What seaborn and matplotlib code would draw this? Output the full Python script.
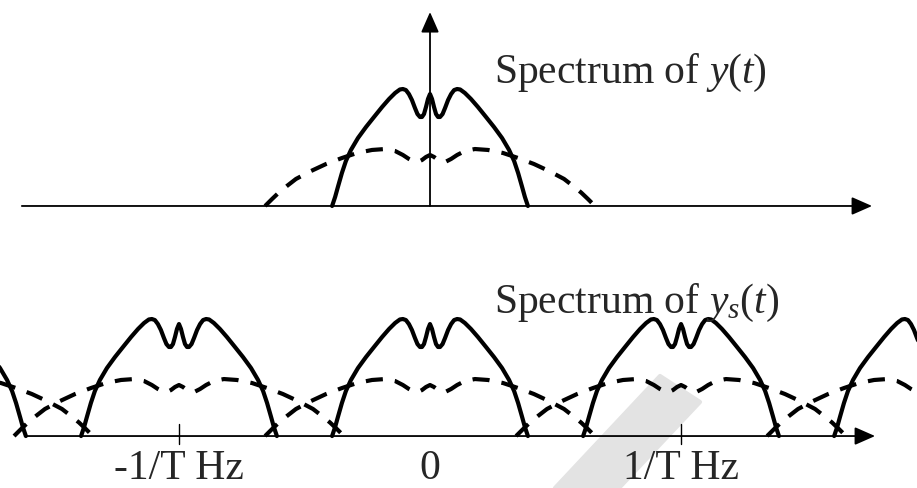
import matplotlib
matplotlib.use("Agg")
import matplotlib.pyplot as plt
import numpy as np
import pandas as pd
import seaborn as sns
from matplotlib.patches import Polygon

# Frequency axis in units of 1/T; amplitude normalised to the peak of y(t)'s spectrum.
SOLID_F = [-0.390, -0.378, -0.367, -0.351, -0.335, -0.315, -0.287, -0.255, -0.223,
           -0.191, -0.163, -0.139, -0.120, -0.108, -0.096, -0.084, -0.072, -0.060,
           -0.050, -0.040, -0.032, -0.024, -0.016, -0.008, 0.000,
           0.008, 0.016, 0.024, 0.032, 0.040, 0.050, 0.060, 0.072, 0.084, 0.096,
           0.108, 0.120, 0.139, 0.163, 0.191, 0.223, 0.255, 0.287, 0.315, 0.335,
           0.351, 0.367, 0.378, 0.390]
SOLID_A = [0.000, 0.077, 0.162, 0.282, 0.385, 0.479, 0.581, 0.675, 0.761,
           0.846, 0.915, 0.966, 0.996, 1.000, 0.991, 0.957, 0.906, 0.838,
           0.786, 0.761, 0.761, 0.786, 0.846, 0.915, 0.957,
           0.915, 0.846, 0.786, 0.761, 0.761, 0.786, 0.838, 0.906, 0.957, 0.991,
           1.000, 0.996, 0.966, 0.915, 0.846, 0.761, 0.675, 0.581, 0.479, 0.385,
           0.282, 0.162, 0.077, 0.000]

DASHED_F = [-0.657, -0.629, -0.602, -0.570, -0.534, -0.474, -0.414, -0.351, -0.291,
            -0.231, -0.179, -0.139, -0.108, -0.084, -0.064, -0.048, -0.032, -0.016, 0.000,
            0.016, 0.032, 0.048, 0.064, 0.084, 0.108, 0.139, 0.179, 0.231, 0.291,
            0.351, 0.414, 0.474, 0.534, 0.570, 0.602, 0.629, 0.657]
DASHED_A = [0.000, 0.060, 0.115, 0.171, 0.231, 0.299, 0.359, 0.410, 0.453,
            0.479, 0.487, 0.470, 0.436, 0.402, 0.380, 0.376, 0.393, 0.419, 0.436,
            0.419, 0.393, 0.376, 0.380, 0.402, 0.436, 0.470, 0.487, 0.479, 0.453,
            0.410, 0.359, 0.299, 0.231, 0.171, 0.115, 0.060, 0.000]

TOP_COPIES = [0]
SAMPLED_COPIES = [-2, -1, 0, 1, 2]

TICK_POS = [-1, 0, 1]
TICK_LABELS = ["-1/T Hz", "0", "1/T Hz"]

TOP_TITLE = "Spectrum of $y$($t$)"
BOTTOM_TITLE = "Spectrum of $y_s$($t$)"


def spectrum_frame(copies):
    parts = []
    for k in copies:
        parts.append(pd.DataFrame({"f": np.add(SOLID_F, k), "amp": SOLID_A,
                                   "kind": "solid", "copy": k}))
        parts.append(pd.DataFrame({"f": np.add(DASHED_F, k), "amp": DASHED_A,
                                   "kind": "dashed", "copy": k}))
    return pd.concat(parts, ignore_index=True)


sns.set_style("white")
plt.rcParams["font.family"] = ["Liberation Serif", "DejaVu Serif"]
plt.rcParams["mathtext.fontset"] = "custom"
plt.rcParams["mathtext.rm"] = "Liberation Serif"
plt.rcParams["mathtext.it"] = "Liberation Serif:italic"

fig = plt.figure(figsize=(9.17, 4.88), dpi=100)
ax_top = fig.add_axes([0, 0.5, 1, 0.5])
ax_bot = fig.add_axes([0, 0.0, 1, 0.5])

XLIM = (-1.713, 1.940)
arrow = dict(arrowstyle="-|>,head_length=1.25,head_width=0.55", mutation_scale=10,
             lw=1.3, color="black", shrinkA=0, shrinkB=0)

panels = [
    (ax_top, TOP_COPIES, (-0.325, 1.761), (-1.626, 1.761), 1.658, TOP_TITLE),
    (ax_bot, SAMPLED_COPIES, (-0.444, 1.641), (-1.614, 1.773), 1.650, BOTTOM_TITLE),
]

for ax, copies, ylim, (x0, x1), ytip, title in panels:
    sns.lineplot(data=spectrum_frame(copies), x="f", y="amp", style="kind",
                 units="copy", estimator=None, sort=False, color="black",
                 linewidth=3.0, dashes={"solid": "", "dashed": (4.1, 2.9)},
                 legend=False, ax=ax, zorder=3)
    ax.set_xlim(*XLIM)
    ax.set_ylim(*ylim)
    ax.set_axis_off()
    # frequency axis and amplitude axis with arrow heads
    ax.annotate("", xy=(x1, 0), xytext=(x0, 0), arrowprops=arrow, zorder=2)
    ax.annotate("", xy=(0, ytip), xytext=(0, 0), arrowprops=arrow, zorder=2)
    ax.text(0.254, 1.051, title, ha="left", va="baseline", fontsize=30, zorder=4)

# tick marks and labels on the sampled spectrum
for pos, lab in zip(TICK_POS, TICK_LABELS):
    if pos != 0:
        ax_bot.plot([pos, pos], [-0.07, 0.103], color="black", lw=1.0, zorder=2)
    ax_bot.text(pos, -0.368, lab, ha="center", va="baseline", fontsize=30, zorder=4)

# faint grey diagonal stroke behind the lower panel
W, H = 917.0, 488.0
stroke = [(660, 376), (700, 402), (619, 488), (555, 488)]
ax_bot.add_patch(Polygon([(x / W, 1 - y / H) for x, y in stroke], closed=True,
                         transform=fig.transFigure, facecolor="#e3e3e3",
                         edgecolor="#e3e3e3", lw=3, joinstyle="round",
                         zorder=0.5, clip_on=False))

fig.savefig("out.png", dpi=100)
